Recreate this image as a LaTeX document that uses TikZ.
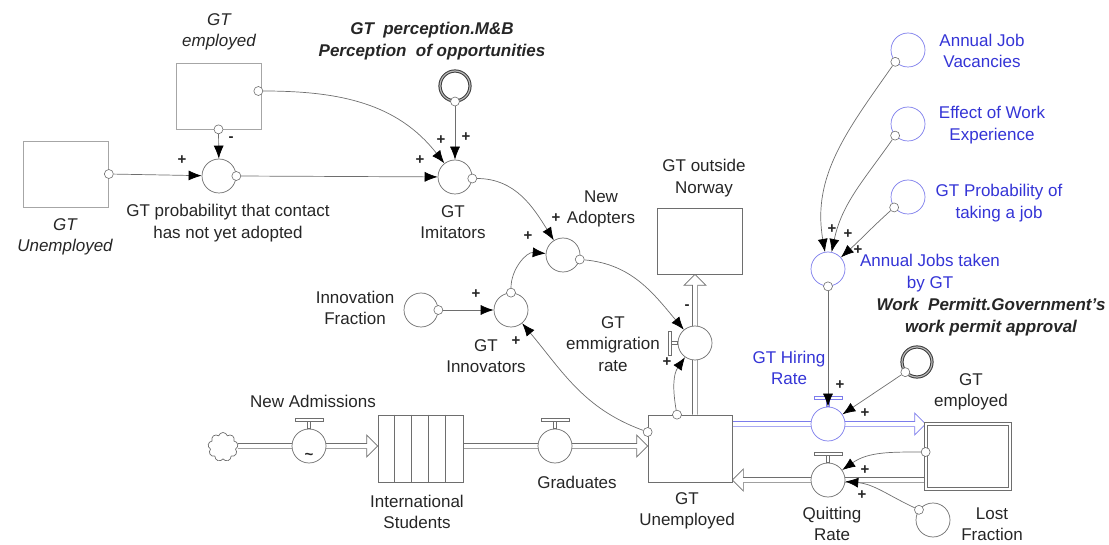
\documentclass[tikz,border=0pt]{standalone}
\usepackage{fontspec}
\setmainfont{Liberation Sans}
\usetikzlibrary{arrows.meta,calc,shapes.symbols}
\pgfdeclarelayer{bg}
\pgfsetlayers{bg,main}
\definecolor{ink}{HTML}{262626}
\definecolor{line}{HTML}{6E6E6E}
\definecolor{vblue}{HTML}{3434D6}
\definecolor{cblue}{HTML}{7C7CEC}

% flow pipes: a double line ending in an open arrow head at the second point
\newcommand\pipeR[3]{\draw[#1] let \p1=(#2), \p2=(#3) in
  (\x1,\y1+2.6pt) -- (\x2-11pt,\y1+2.6pt) -- (\x2-11pt,\y1+11pt) -- (\x2,\y1)
  -- (\x2-11pt,\y1-11pt) -- (\x2-11pt,\y1-2.6pt) -- (\x1,\y1-2.6pt);}
\newcommand\pipeL[3]{\draw[#1] let \p1=(#2), \p2=(#3) in
  (\x1,\y1+2.6pt) -- (\x2+11pt,\y1+2.6pt) -- (\x2+11pt,\y1+11pt) -- (\x2,\y1)
  -- (\x2+11pt,\y1-11pt) -- (\x2+11pt,\y1-2.6pt) -- (\x1,\y1-2.6pt);}
\newcommand\pipeU[3]{\draw[#1] let \p1=(#2), \p2=(#3) in
  (\x1-2.6pt,\y1) -- (\x1-2.6pt,\y2-11pt) -- (\x1-11pt,\y2-11pt) -- (\x1,\y2)
  -- (\x1+11pt,\y2-11pt) -- (\x1+2.6pt,\y2-11pt) -- (\x1+2.6pt,\y1);}
% valve handles
\newcommand\handleTop[2]{%
  \draw[handle,#2] ($(#1.north)+(-1.5pt,0pt)$) rectangle ++(3pt,7pt);
  \draw[handle,#2] ($(#1.north)+(-14pt,7pt)$) rectangle ++(28pt,3pt);}
\newcommand\handleLeft[2]{%
  \draw[handle,#2] ($(#1.west)+(0pt,-1.5pt)$) rectangle ++(-6pt,3pt);
  \draw[handle,#2] ($(#1.west)+(-6pt,-12pt)$) rectangle ++(-3pt,24pt);}

\tikzset{
  txt/.style={text=ink, align=center, font=\fontsize{17}{21.5}\selectfont, inner sep=0pt},
  btxt/.style={txt, text=vblue},
  itx/.style={txt, font=\fontsize{17}{21.5}\selectfont\itshape},
  bitx/.style={txt, font=\fontsize{17}{21.5}\selectfont\bfseries\itshape},
  sgn/.style={text=ink, font=\fontsize{15}{15}\selectfont\bfseries, inner sep=0pt},
  aux/.style={circle, draw=line, line width=0.7pt, fill=white, minimum size=34pt, inner sep=0pt},
  bluaux/.style={aux, draw=cblue},
  port/.style={circle, draw=line, line width=0.6pt, fill=white, minimum size=9pt, inner sep=0pt},
  stock/.style={rectangle, draw=line, line width=0.7pt, fill=white, minimum width=85pt, minimum height=66pt, inner sep=0pt},
  ghost/.style={stock, draw=gray!70},
  link/.style={draw=line, line width=0.7pt, -{Latex[length=13pt,width=10pt,color=black]}},
  pipe/.style={draw=line, line width=0.7pt, fill=white},
  bpipe/.style={pipe, draw=cblue},
  handle/.style={draw=line, line width=0.6pt, fill=white},
  shadowvar/.style={circle, draw=gray!45!black, line width=1pt, double=gray!55, double distance=1.2pt, minimum size=30pt, inner sep=0pt},
}

\begin{document}
\begin{tikzpicture}[x=1pt,y=-1pt]
\useasboundingbox (0,0) rectangle (1109,545);

% ---------- stocks ----------
\node[ghost] (gtUg) at (66,174) {};
\node[ghost] (gtEg) at (218.5,96) {};
\node[stock] (outside) at (699.5,241) {};
\node[stock, minimum height=67pt, minimum width=84pt] (unemp) at (690,448.5) {};
\node[stock, minimum height=67pt] (intl) at (420.5,448.5) {};
\node[stock, minimum width=84pt, minimum height=65pt, double, double distance=2.2pt] (employed) at (968,456.5) {};
\foreach \k in {1,...,4}
  \draw[line, line width=0.7pt] ($(intl.north west)+(17pt*\k,0pt)$) -- ($(intl.south west)+(17pt*\k,0pt)$);

% ---------- source cloud and valves ----------
\node[cloud, cloud puffs=9, draw=line, line width=0.7pt, fill=white, minimum width=30pt, minimum height=29pt, inner sep=0pt] (src) at (223,447) {};
\node[aux] (adm) at (309,446) {};
\node[aux] (grad) at (555,446) {};
\node[aux, draw=cblue] (hire) at (828,424) {};
\node[aux] (quit) at (828,480) {};
\node[aux] (emig) at (695,343) {};
\node[sgn] (tilde) at (309,456) {\textasciitilde};

% ---------- pipes ----------
\begin{pgfonlayer}{bg}
  \pipeR{pipe}{src.east |- adm}{intl.west |- adm}
  \pipeR{pipe}{intl.east |- grad}{unemp.west |- grad}
  \pipeR{bpipe}{unemp.east |- hire}{employed.west |- hire}
  \pipeL{pipe}{employed.west |- quit}{unemp.east |- quit}
  \pipeU{pipe}{unemp.north -| emig}{outside.south -| emig}
\end{pgfonlayer}
\handleTop{adm}{}
\handleTop{grad}{}
\handleTop{hire}{draw=cblue}
\handleTop{quit}{}
\handleLeft{emig}{}

% ---------- auxiliaries ----------
\node[aux] (prob) at (219,176) {};
\node[aux] (imit) at (455,177) {};
\node[aux] (newad) at (563,255) {};
\node[aux] (innov) at (511,310) {};
\node[aux] (innofrac) at (421,310) {};
\node[aux] (lost) at (933,520) {};
\node[bluaux] (ajv) at (908,50) {};
\node[bluaux] (ewe) at (908,124) {};
\node[bluaux] (gtp) at (908,197) {};
\node[bluaux] (ajt) at (828,269) {};
\node[shadowvar] (percep) at (455,86) {};
\node[shadowvar] (permit) at (917,362) {};

% ---------- ports ----------
\node[port] (pUg) at (gtUg.east) {};
\node[port] (pEgB) at (gtEg.south) {};
\node[port] (pEgR) at ($(gtEg.east)+(-3pt,5pt)$) {};
\node[port] (pProb) at (prob.east) {};
\node[port] (pImit) at (imit.-5) {};
\node[port] (pPercep) at (percep.south) {};
\node[port] (pNewad) at (newad.-15) {};
\node[port] (pInnov) at (innov.north) {};
\node[port] (pInnofrac) at (innofrac.east) {};
\node[port] (pUtop) at ($(unemp.north)+(-13pt,0pt)$) {};
\node[port] (pUleft) at ($(unemp.west)+(0pt,16.5pt)$) {};
\node[port] (pEmp) at ($(employed.west)+(0pt,4.5pt)$) {};
\node[port] (pAjv) at (ajv.223) {};
\node[port] (pEwe) at (ewe.222) {};
\node[port] (pGtp) at (gtp.217) {};
\node[port] (pAjt) at (ajt.south) {};
\node[port] (pPermit) at (permit.221) {};
\node[port] (pLost) at (lost.144) {};

% ---------- causal links ----------
\draw[link] (pUg) -- (prob);
\draw[link] (pEgB) -- (prob);
\draw[link] (pProb) -- (imit);
\draw[link] (pEgR) to[out=0, in=128] (imit);
\draw[link] (pPercep) -- (imit);
\draw[link] (pImit) to[out=0, in=122] (newad);
\draw[link] (pInnov) to[out=90, in=175] (newad);
\draw[link] (pInnofrac) -- (innov);
\draw[link] (pUleft) to[out=160, in=-50] (innov);
\draw[link] (pNewad) to[out=-5, in=130] (emig);
\draw[link] (pUtop) to[out=100, in=235] (emig);
\draw[link] (pAjv) to[out=235, in=100] (ajt);
\draw[link] (pEwe) to[out=235, in=78] (ajt);
\draw[link] (pGtp) to[out=222, in=42] (ajt);
\draw[link] (pAjt) -- (hire);
\draw[link] (pPermit) -- (hire);
\draw[link] (pEmp) to[out=180, in=35] (quit);
\draw[link] (pLost) to[out=155, in=-5] (quit);

% ---------- polarity signs ----------
\node[sgn] (s1) at (182,160) {+};
\node[sgn] (s2) at (231,139) {-};
\node[sgn] (s3) at (420,160) {+};
\node[sgn] (s4) at (441,140) {+};
\node[sgn] (s5) at (466,137) {+};
\node[sgn] (s6) at (556,218) {+};
\node[sgn] (s7) at (528,236) {+};
\node[sgn] (s8) at (476,294) {+};
\node[sgn] (s9) at (516,341) {+};
\node[sgn] (s10) at (687,307) {-};
\node[sgn] (s11) at (667,362) {+};
\node[sgn] (s12) at (832,229) {+};
\node[sgn] (s13) at (848,234) {+};
\node[sgn] (s14) at (858,250) {+};
\node[sgn] (s15) at (840,385) {+};
\node[sgn] (s16) at (865,413) {+};
\node[sgn] (s17) at (865,470) {+};
\node[sgn] (s18) at (862,495) {+};

% ---------- labels ----------
\node[itx] (lUg) at (65,237) {GT\\Unemployed};
\node[itx] (lEg) at (219,32) {GT\\employed};
\node[txt] (lProb) at (228,223) {GT probabilityt that contact\\has not yet adopted};
\node[bitx] (lPercep) at (432,41) {GT~ perception.M\&B\\Perception~ of opportunities};
\node[txt] (lImit) at (453,222) {GT\\Imitators};
\node[txt] (lNewad) at (601,209) {New\\Adopters};
\node[txt] (lOutside) at (704,178) {GT outside\\Norway};
\node[txt] (lInnofrac) at (355,308) {Innovation\\Fraction};
\node[txt] (lInnov) at (486,356) {GT\\Innovators};
\node[txt] (lEmig) at (613,344) {GT\\emmigration\\rate};
\node[txt] (lAdm) at (313,401) {New Admissions};
\node[txt] (lIntl) at (417,512) {International\\Students};
\node[txt] (lGrad) at (577,482) {Graduates};
\node[txt] (lUnemp) at (687,511) {GT\\Unemployed};
\node[btxt] (lHire) at (789,368) {GT Hiring\\Rate};
\node[txt] (lQuit) at (832,524) {Quitting\\Rate};
\node[txt] (lEmp) at (971,392) {GT\\employed};
\node[txt] (lLost) at (992,524) {Lost\\Fraction};
\node[btxt] (lAjv) at (982,51) {Annual Job\\Vacancies};
\node[btxt] (lEwe) at (992,125) {Effect of Work\\Experience};
\node[btxt] (lGtp) at (999,203) {GT Probability of\\taking a job};
\node[btxt] (lAjt) at (930,273) {Annual Jobs taken\\by GT};
\node[bitx] (lPermit) at (991,317) {Work~ Permitt.Government's\\work permit approval};
\end{tikzpicture}
\end{document}
